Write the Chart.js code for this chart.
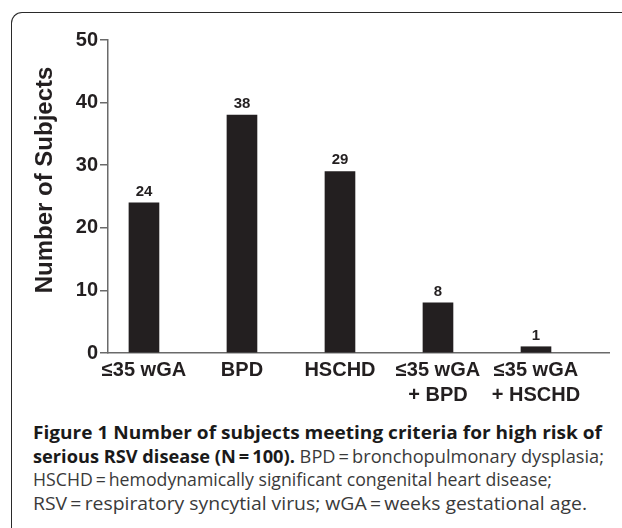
<!DOCTYPE html>
<html><head><meta charset="utf-8">
<script src="https://cdn.jsdelivr.net/npm/chart.js@4"></script>
<style>
html,body{margin:0;padding:0;background:#fff;width:622px;height:528px;overflow:hidden;}
#frame{position:absolute;left:11px;top:12px;width:700px;height:600px;border-top:1.5px solid #2a2a2a;border-left:1.5px solid #2a2a2a;border-top-left-radius:11px;}
#wrap{position:absolute;left:0;top:0;width:622px;height:413px;}
#cap{position:absolute;left:33px;top:420px;font-family:'Open Sans','Noto Sans',sans-serif;font-size:18.5px;line-height:23.7px;color:#3a3a3a;}
#cap .l{display:block;white-space:nowrap;transform-origin:0 0;width:max-content;}
#cap b{color:#1a1a1a;font-weight:700;}
</style></head>
<body>
<div id="frame"></div>
<div id="wrap"><canvas id="c" width="622" height="413"></canvas></div>
<div id="cap">
<span class="l"><b>Figure 1 Number of subjects meeting criteria for high risk of</b></span>
<span class="l"><b>serious RSV disease (N&thinsp;=&thinsp;100).</b> BPD&thinsp;=&thinsp;bronchopulmonary dysplasia;</span>
<span class="l">HSCHD&thinsp;=&thinsp;hemodynamically significant congenital heart disease;</span>
<span class="l">RSV&thinsp;=&thinsp;respiratory syncytial virus; wGA&thinsp;=&thinsp;weeks gestational age.</span>
</div>
<script>
const categories = [['≤35 wGA'], ['BPD'], ['HSCHD'], ['≤35 wGA', '+ BPD'], ['≤35 wGA', '+ HSCHD']];
const subjects = [24, 38, 29, 8, 1];
const yTickValues = [0, 10, 20, 30, 40, 50];
const yTitle = 'Number of Subjects';

const ink = '#231f20';
const axisColor = '#6a6a6a';

const valuePlugin = {
  id: 'vals',
  afterDatasetsDraw(chart) {
    const ctx = chart.ctx;
    const meta = chart.getDatasetMeta(0);
    ctx.save();
    ctx.font = 'bold 15px "Liberation Sans", Arial, sans-serif';
    ctx.fillStyle = ink;
    ctx.textAlign = 'center';
    ctx.textBaseline = 'alphabetic';
    meta.data.forEach((bar, i) => {
      ctx.fillText(String(subjects[i]), bar.x, bar.y - 7);
    });
    // y axis title
    const a = chart.chartArea;
    ctx.translate(a.left - 63, a.top + 140);
    ctx.rotate(-Math.PI / 2);
    ctx.font = 'bold 24px "Liberation Sans", Arial, sans-serif';
    ctx.textBaseline = 'middle';
    ctx.fillText(yTitle, 0, 0);
    ctx.restore();
  }
};

new Chart(document.getElementById('c'), {
  type: 'bar',
  data: {
    datasets: [{
      data: subjects.map((v, i) => ({ x: i, y: v })),
      backgroundColor: ink,
      borderWidth: 0,
      barThickness: 30
    }]
  },
  options: {
    responsive: false,
    devicePixelRatio: 1,
    animation: false,
    layout: { padding: { left: 48, right: 13, top: 40, bottom: 0 } },
    plugins: { legend: { display: false }, tooltip: { enabled: false } },
    scales: {
      x: {
        type: 'linear',
        offset: false,
        min: -0.367,
        max: 4.745,
        grid: { display: false, drawTicks: false, offset: false },
        border: { display: true, color: axisColor, width: 1.5 },
        ticks: {
          stepSize: 1,
          includeBounds: false,
          autoSkip: false,
          maxRotation: 0,
          padding: 5,
          color: ink,
          font: { family: '"Liberation Sans", Arial, sans-serif', weight: 'bold', size: 20, lineHeight: 1.25 },
          callback: (v) => categories[Math.round(v)] || ''
        },
        afterFit: (s) => { s.height = 60; }
      },
      y: {
        min: 0,
        max: 50,
        afterBuildTicks: (s) => { s.ticks = yTickValues.map(v => ({ value: v })); },
        grid: { display: true, drawOnChartArea: false, drawTicks: true, tickLength: 8, color: axisColor, lineWidth: 1.5 },
        border: { display: true, color: axisColor, width: 1.5 },
        ticks: {
          padding: 2,
          color: ink,
          font: { family: '"Liberation Sans", Arial, sans-serif', weight: 'bold', size: 20 }
        },
        afterFit: (s) => { s.width = 60; }
      }
    }
  },
  plugins: [valuePlugin]
});

const targets = [569, 571, 519, 554];
function fitCaption() {
  document.querySelectorAll('#cap .l').forEach((el, i) => {
    el.style.transform = 'none';
    const w = el.getBoundingClientRect().width;
    if (w > 0) el.style.transform = 'scaleX(' + (targets[i] / w) + ')';
  });
}
fitCaption();
if (document.fonts && document.fonts.ready) document.fonts.ready.then(fitCaption);
</script>
</body></html>
